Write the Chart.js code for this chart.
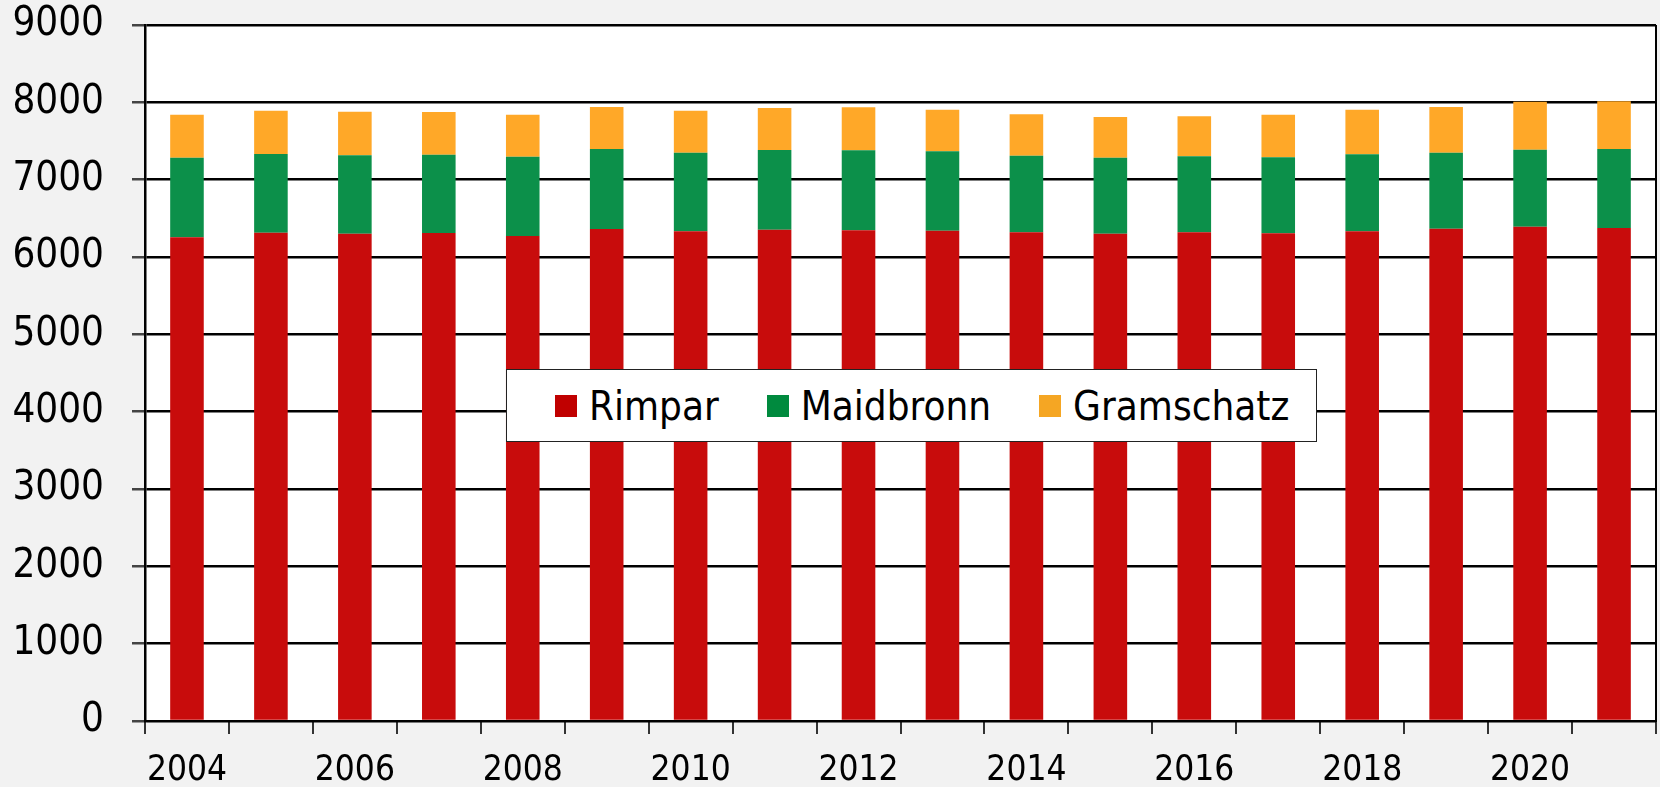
<!DOCTYPE html>
<html>
<head>
<meta charset="utf-8">
<script src="https://cdn.jsdelivr.net/npm/chart.js@4"></script>
<style>
  html, body { margin: 0; padding: 0; background: #f2f2f2; }
  #wrap { position: relative; width: 1660px; height: 787px; }
  #legendBox {
    position: absolute; left: 506px; top: 369px; width: 811px; height: 73px;
    box-sizing: border-box; border: 1px solid #222; background: #fff;
    display: flex; align-items: center; padding-left: 48px;
    font-family: 'DejaVu Sans Condensed', 'DejaVu Sans', sans-serif; font-size: 40px; color: #000;
  }
  .item { display: flex; align-items: center; margin-right: 48px; }
  .swatch { width: 22px; height: 22px; margin-right: 12px; }
</style>
</head>
<body>
<div id="wrap">
  <canvas id="chart" width="1660" height="787"></canvas>
  <div id="legendBox"></div>
</div>
<script>
// Einwohner je Ortsteil
const years = ['2004', '2005', '2006', '2007', '2008', '2009', '2010', '2011', '2012',
  '2013', '2014', '2015', '2016', '2017', '2018', '2019', '2020', '2021'];
const rimpar = [6254, 6315, 6302, 6310, 6272, 6362, 6332, 6353, 6345,
  6341, 6319, 6302, 6319, 6306, 6332, 6366, 6392, 6375];
const maidbronn = [1030, 1017, 1013, 1013, 1025, 1035, 1017, 1031, 1034,
  1025, 991, 982, 983, 983, 996, 983, 996, 1022];
const gramschatz = [557, 560, 564, 552, 544, 543, 543, 543, 556,
  539, 535, 526, 517, 552, 577, 591, 621, 616];
const yTicks = [0, 1000, 2000, 3000, 4000, 5000, 6000, 7000, 8000, 9000];

const seriesNames = ['Rimpar', 'Maidbronn', 'Gramschatz'];
const seriesColors = ['#c80c0c', '#0c904a', '#ffa828'];
const legendColors = ['#c00000', '#008a3e', '#f5a623'];

Chart.defaults.font.family = "'DejaVu Sans Condensed', 'DejaVu Sans', sans-serif";
Chart.defaults.color = '#000';

// white plot area + frame on the right
const plotBg = {
  id: 'plotBg',
  beforeDraw(chart) {
    const a = chart.chartArea;
    const ctx = chart.ctx;
    ctx.save();
    ctx.fillStyle = '#fff';
    ctx.fillRect(a.left, a.top, a.right - a.left, a.bottom - a.top);
    ctx.restore();
  },
  afterDraw(chart) {
    const a = chart.chartArea;
    const ctx = chart.ctx;
    ctx.save();
    ctx.strokeStyle = '#000';
    ctx.lineWidth = 2;
    ctx.beginPath();
    ctx.moveTo(a.right, a.top);
    ctx.lineTo(a.right, a.bottom);
    ctx.stroke();
    ctx.restore();
  }
};

const datasets = [rimpar, maidbronn, gramschatz].map((values, i) => ({
  label: seriesNames[i],
  data: values,
  backgroundColor: seriesColors[i],
  borderWidth: 0,
  barPercentage: 0.4,
  categoryPercentage: 1
}));

new Chart(document.getElementById('chart'), {
  type: 'bar',
  data: { labels: years, datasets: datasets },
  plugins: [plotBg],
  options: {
    responsive: false,
    animation: false,
    devicePixelRatio: 1,
    layout: { padding: { top: 25, right: 4, left: 0, bottom: 0 } },
    plugins: {
      legend: { display: false },
      tooltip: { enabled: false }
    },
    scales: {
      x: {
        stacked: true,
        afterFit: (scale) => {
          scale.height = 66;
          scale.paddingLeft = 0;
          scale.paddingRight = 0;
        },
        grid: {
          drawOnChartArea: false,
          drawTicks: true,
          tickLength: 13,
          tickColor: '#333',
          lineWidth: 2
        },
        border: { color: '#000', width: 2 },
        ticks: {
          autoSkip: false,
          maxRotation: 0,
          padding: 16,
          font: { size: 35 },
          callback: (val, i) => (i % 2 === 0 ? years[i] : '')
        }
      },
      y: {
        stacked: true,
        min: 0,
        max: 9000,
        afterFit: (scale) => {
          scale.width = 145;
          scale.paddingTop = 0;
          scale.paddingBottom = 0;
        },
        afterBuildTicks: (scale) => { scale.ticks = yTicks.map(v => ({ value: v })); },
        grid: {
          color: '#000',
          lineWidth: 2.5,
          tickLength: 13,
          tickColor: '#444'
        },
        border: { color: '#000', width: 2.5 },
        ticks: {
          padding: 28,
          font: { size: 40 },
          callback: (val) => String(val)
        }
      }
    }
  }
});

// legend as a boxed row in the middle of the plot
const legendBox = document.getElementById('legendBox');
seriesNames.forEach((name, i) => {
  const item = document.createElement('div');
  item.className = 'item';
  const sw = document.createElement('span');
  sw.className = 'swatch';
  sw.style.background = legendColors[i];
  const txt = document.createElement('span');
  txt.textContent = name;
  item.appendChild(sw);
  item.appendChild(txt);
  legendBox.appendChild(item);
});
</script>
</body>
</html>
